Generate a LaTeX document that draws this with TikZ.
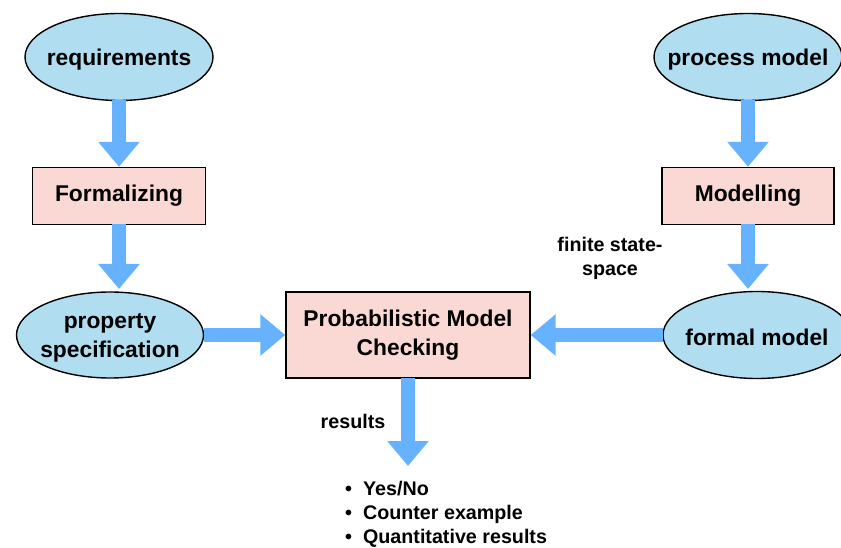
\documentclass[tikz,border=0pt]{standalone}
\usepackage{fontspec}
\setmainfont{Liberation Sans}
\usetikzlibrary{shapes.geometric,arrows.meta}
\definecolor{ovalblue}{RGB}{176,221,240}
\definecolor{boxpink}{RGB}{250,217,212}
\definecolor{flowblue}{RGB}{102,178,255}
\tikzset{
  bigtext/.style={font=\fontsize{22.8}{29}\selectfont\bfseries, align=center, inner sep=0pt},
  % ellipse of fixed size; its text is set as a centred label so it cannot widen the outline
  oval/.style={ellipse, draw=black, line width=1.4pt, fill=ovalblue,
    minimum width=188pt, minimum height=87pt, inner sep=0pt,
    label={[bigtext,yshift=-2.5pt]center:#1}},
  stagebox/.style={rectangle, draw=black, line width=1.4pt, fill=boxpink,
    inner sep=0pt, bigtext},
  flow/.style={draw=flowblue, line width=14pt,
    -{Triangle[width=40pt,length=25pt]}, shorten <=-0.7pt},
  note/.style={font=\fontsize{19.7}{24}\selectfont\bfseries, align=center, inner sep=0pt}
}
\begin{document}
\begin{tikzpicture}[x=1pt,y=-1pt]
  \useasboundingbox (0,0) rectangle (841,548);

  % inputs on the left and right
  \node[oval={requirements}] (req) at (119,57) {};
  \node[stagebox, minimum width=173pt, minimum height=57pt] (form) at (119,196) {Formalizing};
  \node[oval={property\\specification}, minimum width=187pt, minimum height=86pt] (prop) at (110,335) {};

  \node[oval={process model}] (proc) at (748,57) {};
  \node[stagebox, minimum width=172pt, minimum height=57pt] (modl) at (748,196) {Modelling};
  \node[oval={formal model}] (fmod) at (757,335) {};

  % central checker
  \node[stagebox, minimum width=244pt, minimum height=86pt] (pmc) at (408,335)
    {Probabilistic Model\\Checking};

  % free ends of the vertical flows
  \coordinate (propin) at (119,289);
  \coordinate (fmodin) at (748,289);
  \coordinate (out) at (408,466);

  % labels
  \node[note, anchor=base] (reslbl) at (353,428) {results};
  \node[note, anchor=base] (fss) at (610,276) {finite state-\\space};
  \node[note, anchor=north west, align=left] (outs) at (345,481)
    {\textbullet\hspace{11pt}Yes/No\\
     \textbullet\hspace{11pt}Counter example\\
     \textbullet\hspace{11pt}Quantitative results};

  % flows
  \draw[flow] (req) -- (form);
  \draw[flow] (form.south) -- (propin);
  \draw[flow] (proc) -- (modl);
  \draw[flow] (modl.south) -- (fmodin);
  \draw[flow] (prop) -- (pmc);
  \draw[flow] (fmod) -- (pmc);
  \draw[flow] (pmc) -- (out);
\end{tikzpicture}
\end{document}
